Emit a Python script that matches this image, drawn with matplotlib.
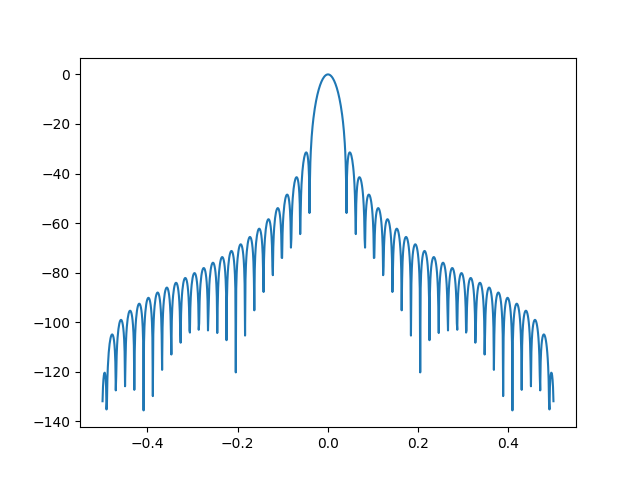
import numpy as np
import matplotlib
matplotlib.use("Agg")
import matplotlib.pyplot as plt

# window length and fft size used for the response
n_window = 50
n_fft = 1024

window = np.hanning(n_window)

A = np.fft.fft(window, n_fft) / (len(window) / 2.0)
freq = np.linspace(-0.5, 0.5, len(A))
response = 20 * np.log10(np.abs(np.fft.fftshift(A / abs(A).max())))

fig, ax = plt.subplots(figsize=(6.4, 4.8), dpi=100)
ax.plot(freq, response)
fig.savefig("out.png")
